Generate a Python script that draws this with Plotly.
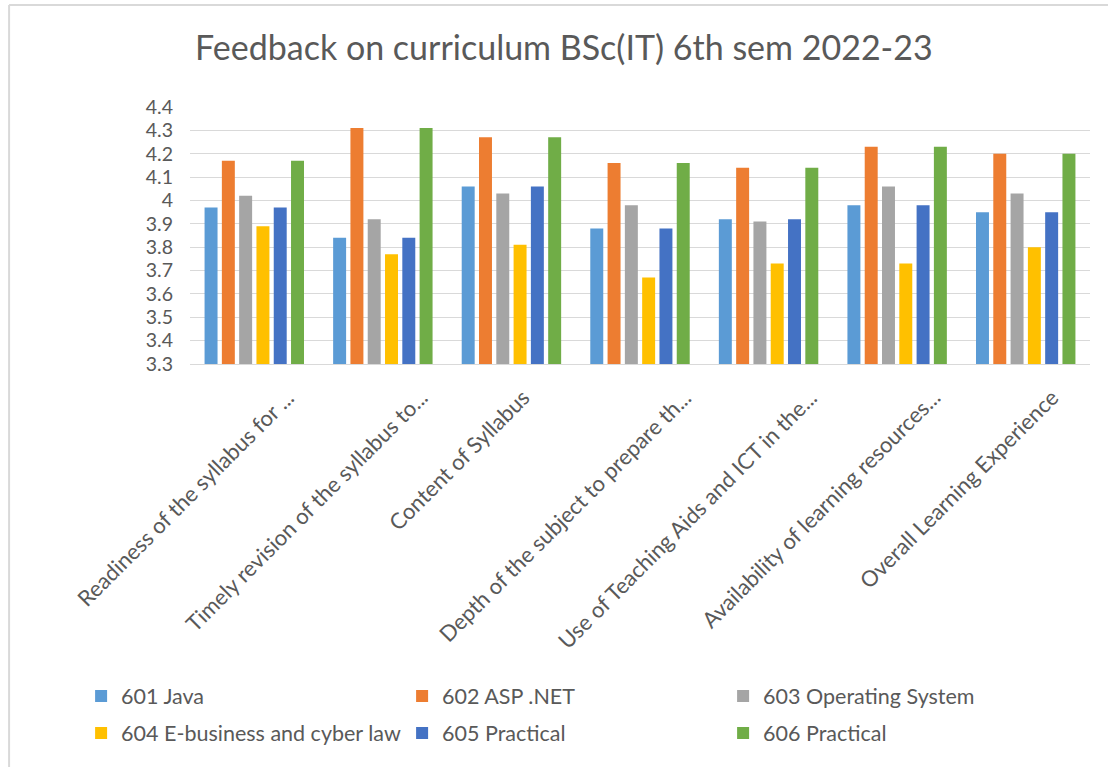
import plotly.graph_objects as go

categories = [
    "Readiness of the syllabus for ...",
    "Timely revision of the syllabus to...",
    "Content of Syllabus",
    "Depth of the subject to prepare th...",
    "Use of Teaching Aids and ICT in the...",
    "Availability of learning resources...",
    "Overall Learning Experience",
]
series_names = [
    "601 Java",
    "602 ASP .NET",
    "603 Operating System",
    "604 E-business and cyber law",
    "605 Practical",
    "606 Practical",
]
java = [3.97, 3.84, 4.06, 3.88, 3.92, 3.98, 3.95]
asp = [4.17, 4.31, 4.27, 4.16, 4.14, 4.23, 4.20]
os_ = [4.02, 3.92, 4.03, 3.98, 3.91, 4.06, 4.03]
ebiz = [3.89, 3.77, 3.81, 3.67, 3.73, 3.73, 3.80]
p605 = [3.97, 3.84, 4.06, 3.88, 3.92, 3.98, 3.95]
p606 = [4.17, 4.31, 4.27, 4.16, 4.14, 4.23, 4.20]
series_values = [java, asp, os_, ebiz, p605, p606]
y_ticks = [3.3, 3.4, 3.5, 3.6, 3.7, 3.8, 3.9, 4.0, 4.1, 4.2, 4.3, 4.4]
y_tick_labels = ["3.3", "3.4", "3.5", "3.6", "3.7", "3.8", "3.9", "4", "4.1", "4.2", "4.3", "4.4"]

# styling
colors = ["#5B9BD5", "#ED7D31", "#A5A5A5", "#FFC000", "#4472C4", "#70AD47"]
legend_rows = ["legend", "legend", "legend", "legend2", "legend2", "legend2"]
label_xshift = [48, 52, 26, 59, 57, 51, 41]
FONT = "Lato"
TEXT = "#595959"
GRID = "#D9D9D9"

fig = go.Figure()
for name, vals, col, lg in zip(series_names, series_values, colors, legend_rows):
    fig.add_trace(go.Bar(x=categories, y=vals, name=name, marker_color=col,
                         marker_line_width=0, legend=lg))

annotations = []
for cat, dx in zip(categories, label_xshift):
    annotations.append(dict(
        x=cat, xref="x", y=0, yref="paper", text=cat, showarrow=False,
        textangle=-45, xanchor="right", yanchor="top", xshift=dx, yshift=-17,
        font=dict(family=FONT, size=22, color=TEXT)))

legend_common = dict(orientation="h", xanchor="left", yanchor="middle",
                     entrywidth=276, entrywidthmode="pixels", itemwidth=30,
                     font=dict(family=FONT, size=21.5, color=TEXT),
                     bgcolor="rgba(0,0,0,0)", traceorder="normal")

fig.update_layout(
    width=1110, height=767,
    margin=dict(l=190, r=20, t=107, b=403),
    paper_bgcolor="white", plot_bgcolor="white",
    barmode="group", bargap=0.193, bargroupgap=0.25,
    title=dict(text="Feedback on curriculum BSc(IT) 6th sem 2022-23",
               x=0.508, xanchor="center", y=0.937, yanchor="middle",
               font=dict(family=FONT, size=34, color=TEXT)),
    font=dict(family=FONT, color=TEXT),
    xaxis=dict(showticklabels=False, showline=True, linecolor=GRID,
               linewidth=1, ticks="", range=[-0.5, len(categories) - 0.5],
               autorange=False),
    yaxis=dict(range=[3.3, 4.4], tickvals=y_ticks, ticktext=y_tick_labels,
               tickfont=dict(family=FONT, size=19.5, color=TEXT), showgrid=True,
               gridcolor=GRID, gridwidth=1, zeroline=False, ticks="",
               ticklabelstandoff=16),
    legend=dict(x=-0.121, y=-1.292, **legend_common),
    legend2=dict(x=-0.121, y=-1.436, **legend_common),
    annotations=annotations,
    shapes=[
        dict(type="line", xref="paper", yref="paper", x0=-0.201, x1=1.02,
             y0=1.397, y1=1.397, line=dict(color=GRID, width=2)),
        dict(type="line", xref="paper", yref="paper", x0=-0.201, x1=-0.201,
             y0=1.397, y1=-1.568, line=dict(color=GRID, width=2)),
    ],
)
fig.write_html("out.html", config={"displayModeBar": False},
               post_script="document.body.style.margin='0';document.body.style.overflow='hidden';")
